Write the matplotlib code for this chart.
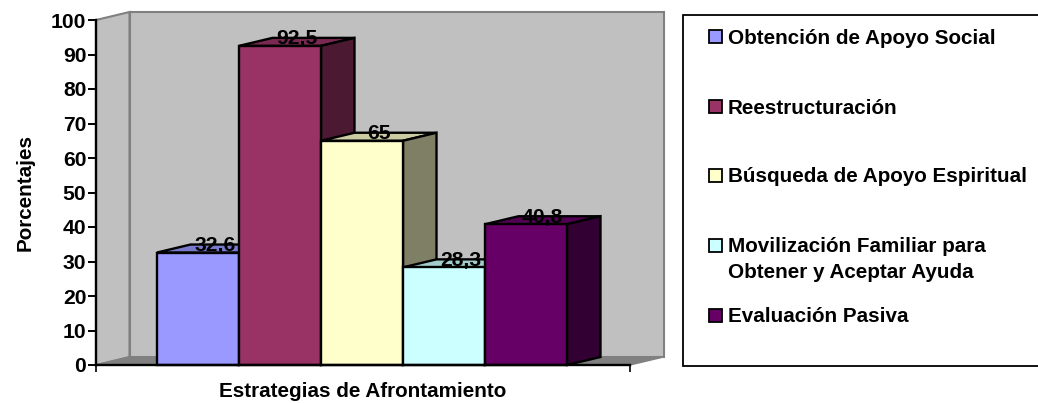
"""Pseudo-3D bar chart of coping strategies with a side legend."""

import matplotlib

matplotlib.use("Agg")
import matplotlib.pyplot as plt
from matplotlib.patches import Polygon, Rectangle

CATEGORIES = [
    "Obtención de Apoyo Social",
    "Reestructuración",
    "Búsqueda de Apoyo Espiritual",
    "Movilización Familiar para\nObtener y Aceptar Ayuda",
    "Evaluación Pasiva",
]
VALUES = [32.6, 92.5, 65, 28.3, 40.8]
VALUE_LABELS = ["32,6", "92,5", "65", "28,3", "40,8"]
FRONT = ["#9999FF", "#993366", "#FFFFCC", "#CCFFFF", "#660066"]
SIDE = ["#4C4C7F", "#4C1933", "#7F7F66", "#667F7F", "#330033"]
TOP = ["#7A7ACC", "#7A2952", "#CCCCA3", "#A3CCCC", "#520052"]
YTICKS = list(range(0, 101, 10))

WIDTH, HEIGHT = 1038, 403
AX_LEFT, AX_RIGHT, AX_TOP, AX_BOTTOM = 96, 630, 20, 365
DEPTH_X = 33.5 / 82  # bar widths
DEPTH_Y = 8 / 3.45  # y units
LEGEND_Y = [36.5, 106.5, 175.5, 245.5, 315]
FONT = 15.2
LABEL_FONT = 14.9
LEGEND_FONT = 14.9

plt.rcParams["font.family"] = "Liberation Sans"
plt.rcParams["font.weight"] = "bold"

fig = plt.figure(figsize=(WIDTH / 100, HEIGHT / 100), dpi=100)
ax = fig.add_axes([
    AX_LEFT / WIDTH,
    1 - AX_BOTTOM / HEIGHT,
    (AX_RIGHT - AX_LEFT) / WIDTH,
    (AX_BOTTOM - AX_TOP) / HEIGHT,
])
half = (AX_RIGHT - AX_LEFT) / 82 / 2
center = 2.5 + 1 / 82
ax.set_xlim(center - half, center + half)
ax.set_ylim(0, 100)
ax.patch.set_visible(False)
x0, x1 = ax.get_xlim()


def add_poly(points, face, edge, lw=1.7, z=2):
    ax.add_patch(Polygon(points, closed=True, facecolor=face, edgecolor=edge,
                         linewidth=lw, clip_on=False, zorder=z, joinstyle="miter"))


# walls and floor
dx, dy = DEPTH_X, DEPTH_Y
add_poly([(x0, 0), (x0 + dx, dy), (x0 + dx, 100 + dy), (x0, 100)], "#C0C0C0", "#808080", 1.5, 1)
add_poly([(x0 + dx, dy), (x1 + dx, dy), (x1 + dx, 100 + dy), (x0 + dx, 100 + dy)], "#C0C0C0", "#808080", 1.5, 1)
add_poly([(x0, 0), (x1, 0), (x1 + dx, dy), (x0 + dx, dy)], "#808080", "#808080", 1, 1)

for i, value in enumerate(VALUES):
    add_poly([(i, value), (i + 1, value), (i + 1 + dx, value + dy), (i + dx, value + dy)], TOP[i], "black")
    add_poly([(i + 1, 0), (i + 1 + dx, dy), (i + 1 + dx, value + dy), (i + 1, value)], SIDE[i], "black")
    add_poly([(i, 0), (i + 1, 0), (i + 1, value), (i, value)], FRONT[i], "black")

for i, (value, label) in enumerate(zip(VALUES, VALUE_LABELS)):
    ax.text(i + 0.5 + dx / 2, value + dy - 0.3, label, ha="center", va="center",
            fontsize=FONT, color="black", zorder=5, clip_on=False)

ax.set_yticks(YTICKS)
ax.set_xticks([x0, x1])
ax.set_xticklabels([])
ax.tick_params(axis="y", length=5.8, width=1.4, pad=1.2, labelsize=FONT)
ax.tick_params(axis="x", length=5, width=1.2)
for name in ("top", "right"):
    ax.spines[name].set_visible(False)
for name in ("left", "bottom"):
    ax.spines[name].set_linewidth(1.7)
    ax.spines[name].set_zorder(4)

ax.set_xlabel("Estrategias de Afrontamiento", fontsize=LABEL_FONT, fontweight="bold")
ax.xaxis.set_label_coords(0.5, -0.05)
ax.set_ylabel("Porcentajes", fontsize=LABEL_FONT, fontweight="bold")
ax.yaxis.set_label_coords(-0.115, 0.5)

# legend, laid out in pixels because its rows are unevenly spaced
leg = fig.add_axes([0, 0, 1, 1])
leg.set_xlim(0, WIDTH)
leg.set_ylim(HEIGHT, 0)
leg.axis("off")
leg.patch.set_visible(False)
leg.add_patch(Rectangle((683, 14.5), 400, 351.5, facecolor="white", edgecolor="black", linewidth=1.3))
for label, color, y in zip(CATEGORIES, FRONT, LEGEND_Y):
    leg.add_patch(Rectangle((709, y - 6.5), 13, 13, facecolor=color, edgecolor="black", linewidth=1.3))
    lines = label.split("\n")
    for j, line in enumerate(lines):
        leg.text(728, y + 1.5 + j * 25.5, line, fontsize=LEGEND_FONT, va="center", ha="left", color="black")

fig.savefig("out.png", dpi=100)
